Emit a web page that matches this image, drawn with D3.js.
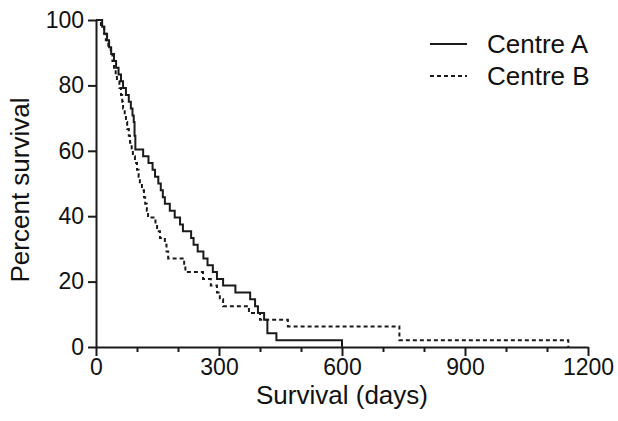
<!DOCTYPE html>
<html>
<head>
<meta charset="utf-8">
<script src="https://cdn.jsdelivr.net/npm/d3@7"></script>
<style>
  body { margin: 0; background: #fff; }
  svg text { font-family: "Liberation Sans", Arial, sans-serif; fill: #111; }
</style>
</head>
<body>
<svg id="chart" width="618" height="421"></svg>
<script>
// ** Data ** (day, percent surviving after the step)
const centreADays = [0, 15, 20, 27, 32, 37, 44, 49, 55, 61, 66, 73, 80, 85, 89, 92, 94, 96, 115, 128, 138, 144, 152, 158, 163, 168, 180, 192, 205, 212, 232, 238, 248, 262, 272, 285, 295, 310, 340, 376, 388, 395, 410, 418, 440, 600];
const centreASurv = [100, 97.9, 95.8, 93.8, 91.7, 89.6, 87.5, 85.4, 83.3, 81.3, 79.2, 77.1, 75, 72.9, 70.8, 68.8, 64.6, 60.4, 58.3, 56.3, 54.2, 52.1, 50, 47.9, 45.8, 43.8, 41.7, 39.6, 37.5, 35.4, 33.3, 31.3, 29.2, 27.1, 25, 22.9, 20.8, 18.8, 16.7, 14.6, 12.5, 10.4, 8.3, 4.2, 2.1, 0];

const centreBDays = [0, 12, 20, 24, 30, 36, 40, 44, 48, 51, 57, 61, 64, 66, 70, 73, 76, 80, 83, 87, 90, 95, 100, 104, 107, 112, 117, 120, 124, 127, 145, 149, 156, 168, 172, 176, 215, 218, 261, 280, 295, 302, 310, 373, 400, 468, 740, 1152];
const centreBSurv = [100, 97.9, 95.8, 93.8, 91.7, 89.6, 87.5, 85.4, 83.3, 81.3, 79.2, 77.1, 75, 72.9, 70.8, 68.8, 66.7, 64.6, 62.5, 60.4, 58.3, 56.3, 54.2, 52.1, 50, 47.9, 45.8, 43.8, 41.7, 39.6, 37.5, 35.4, 33.3, 31.3, 29.2, 27.1, 25, 22.9, 20.8, 18.8, 16.7, 14.6, 12.5, 10.4, 8.3, 6.3, 2.1, 0];

const seriesNames = ["Centre A", "Centre B"];
const xTicks = [0, 300, 600, 900, 1200];
const xMinorTicks = [100, 200, 400, 500, 700, 800, 1000, 1100];
const yTicks = [0, 20, 40, 60, 80, 100];

// ** Layout **
const plotLeft = 96, plotRight = 588, plotTop = 20, plotBottom = 347;
const ink = "#1a1a1a";

const svg = d3.select("#chart");

const x = d3.scaleLinear().domain([0, 1200]).range([plotLeft, plotRight]);
const y = d3.scaleLinear().domain([0, 100]).range([plotBottom, plotTop]);

// x axis minor ticks
svg.append("g")
  .attr("transform", `translate(0,${plotBottom})`)
  .call(d3.axisBottom(x).tickValues(xMinorTicks).tickSize(5).tickFormat(""))
  .call(g => g.select(".domain").remove())
  .call(g => g.selectAll("line").attr("stroke", ink).attr("stroke-width", 2));

let xAxis = svg.append("g")
  .attr("transform", `translate(0,${plotBottom})`)
  .call(d3.axisBottom(x).tickValues(xTicks).tickFormat(d3.format("d"))
    .tickSizeInner(9).tickSizeOuter(0).tickPadding(3));

let yAxis = svg.append("g")
  .attr("transform", `translate(${plotLeft},0)`)
  .call(d3.axisLeft(y).tickValues(yTicks).tickSizeInner(8).tickSizeOuter(0).tickPadding(4));

[xAxis, yAxis].forEach(g => {
  g.select(".domain").attr("stroke", ink).attr("stroke-width", 2);
  g.selectAll(".tick line").attr("stroke", ink).attr("stroke-width", 2);
  g.selectAll(".tick text").style("font-size", "23px").attr("fill", ink);
});

// survival curves
const line = d3.line()
  .x(d => x(d[0]))
  .y(d => y(d[1]))
  .curve(d3.curveStepAfter);

const curveA = centreADays.map((d, i) => [d, centreASurv[i]]);
const curveB = centreBDays.map((d, i) => [d, centreBSurv[i]]);

svg.append("path")
  .datum(curveA)
  .attr("d", line)
  .attr("fill", "none")
  .attr("stroke", ink)
  .attr("stroke-width", 2);

svg.append("path")
  .datum(curveB)
  .attr("d", line)
  .attr("fill", "none")
  .attr("stroke", ink)
  .attr("stroke-width", 2)
  .attr("stroke-dasharray", "4,3");

// axis titles
svg.append("text")
  .attr("x", (plotLeft + plotRight) / 2)
  .attr("y", 404)
  .attr("text-anchor", "middle")
  .style("font-size", "26px")
  .text("Survival (days)");

svg.append("text")
  .attr("transform", `translate(29,190) rotate(-90)`)
  .attr("text-anchor", "middle")
  .style("font-size", "26px")
  .text("Percent survival");

// legend
const legend = svg.append("g");
seriesNames.forEach((name, i) => {
  let ly = 44 + i * 32;
  legend.append("line")
    .attr("x1", 430).attr("x2", 467)
    .attr("y1", ly).attr("y2", ly)
    .attr("stroke", ink)
    .attr("stroke-width", 2)
    .attr("stroke-dasharray", i == 1 ? "4,3" : null);
  legend.append("text")
    .attr("x", 487)
    .attr("y", ly + 9)
    .style("font-size", "26px")
    .text(name);
});
</script>
</body>
</html>
